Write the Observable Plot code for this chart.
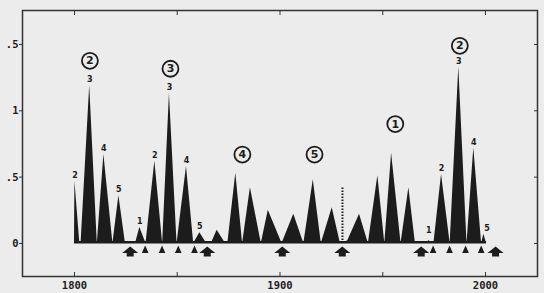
<!DOCTYPE html>
<html><head><meta charset="utf-8">
<script src="https://cdn.jsdelivr.net/npm/d3@7"></script>
<script src="https://cdn.jsdelivr.net/npm/@observablehq/plot@0.6"></script>
<style>
html,body{margin:0;padding:0;background:#ececec;}
#chart{width:544px;height:293px;}
</style></head><body><div id="chart"></div>
<script>
// Outline of the spikes (year, value)
const years = [1800,1800.2,1802.6,1803.2,1807.4,1811.1,1814.3,1818.7,1821.6,1824.8,1829.7,1831.8,1834.8,1839.1,1842.9,1846.2,1849.9,1854.5,1858.0,1861.0,1864.3,1866.6,1869.4,1873.5,1874.6,1878.5,1881.8,1885.6,1890.9,1894.3,1901.0,1906.7,1911.6,1916.2,1920.1,1925.4,1929.4,1930.4,1933.0,1938.7,1943.0,1947.6,1951.0,1954.3,1958.9,1962.7,1965.9,1970.8,1972.4,1974.9,1978.6,1982.8,1987.0,1991.0,1994.3,1998.1,1999.2,2000.5];
const values = [0,0.47,0,0,1.19,0,0.67,0,0.36,0,0,0.12,0,0.62,0,1.13,0,0.58,0,0.08,0,0,0.10,0,0,0.53,0,0.42,0,0.25,0,0.22,0,0.48,0,0.27,0,0,0.02,0.22,0,0.51,0,0.68,0,0.42,0,0,0.02,0,0.52,0,1.33,0,0.72,0,0.07,0];

// small numbers above peaks
const labelYears  = [1800.3,1807.4,1814.3,1821.6,1831.8,1839.1,1846.2,1854.5,1861.0,1972.4,1978.6,1987.0,1994.3,2000.8];
const labelValues = [0.47,1.19,0.67,0.36,0.12,0.62,1.13,0.58,0.08,0.05,0.52,1.33,0.72,0.07];
const labelTexts  = ["2","3","4","5","1","2","3","4","5","1","2","3","4","5"];

// circled numbers
const circleYears  = [1807.5,1846.7,1881.7,1916.8,1956.1,1987.5];
const circleValues = [1.377,1.317,0.67,0.67,0.90,1.49];
const circleTexts  = ["2","3","4","5","1","2"];

// markers below the baseline
const triangleYears = [1834.4,1842.6,1850.5,1858.4,1974.5,1982.5,1990.3,1997.9];
const arrowYears = [1827.1,1864.6,1901.1,1930.3,1968.7,2004.9];

// dotted vertical line
const dottedYear = 1930.4;
const dottedTop = 0.43;

// ticks
const yTicks = [0,0.5,1,1.5];
const yTickLabels = ["0",".5","1",".5"];
const xTicks = [1800,1850,1900,1950,2000];
const xLabelTicks = [1800,1900,2000];
const xTickLabels = ["1800","1900","2000"];

const series = years.map((y,i)=>({year:y,value:values[i]}));
const labels = labelYears.map((y,i)=>({year:y,value:labelValues[i],text:labelTexts[i]}));
const circles = circleYears.map((y,i)=>({year:y,value:circleValues[i],text:circleTexts[i]}));

const triRowY = -0.045, arrowRowY = -0.06;
const triSym = {draw(ctx){ctx.moveTo(0,-4);ctx.lineTo(3.3,3.5);ctx.lineTo(-3.3,3.5);ctx.closePath();}};
const arrowSym = {draw(ctx){ctx.moveTo(0,-5);ctx.lineTo(8,1.5);ctx.lineTo(3.5,1.5);ctx.lineTo(3.5,5);ctx.lineTo(-3.5,5);ctx.lineTo(-3.5,1.5);ctx.lineTo(-8,1.5);ctx.closePath();}};

const ink = "#1c1c1c";
const tickFont = {fontSize:10.5, fontWeight:"bold", fontFamily:"DejaVu Sans Mono"};

const chart = Plot.plot({
  width:544, height:293,
  marginLeft:22, marginRight:7, marginTop:10, marginBottom:17,
  x:{domain:[1774.7,2025.3], label:null},
  y:{domain:[-0.249,1.756], label:null},
  style:{background:"#ececec", color:ink, fontFamily:"DejaVu Sans Mono"},
  marks:[
    Plot.areaY(series,{x:"year",y:"value",fill:ink}),
    Plot.ruleY([0],{x1:years[0],x2:years[years.length-1],stroke:ink,strokeWidth:2.5,dy:-1.2}),
    Plot.ruleX([dottedYear],{y1:0,y2:dottedTop,stroke:ink,strokeWidth:2,strokeDasharray:"1.5,1.5"}),
    Plot.text(labels,{x:"year",y:"value",text:"text",dy:-6,fontSize:8,fontWeight:"bold",fontFamily:"DejaVu Sans",fill:ink}),
    Plot.dot(circles,{x:"year",y:"value",r:8,stroke:ink,strokeWidth:1.8,fill:"none"}),
    Plot.text(circles,{x:"year",y:"value",text:"text",fontSize:11,fontWeight:"bold",fontFamily:"DejaVu Sans",fill:ink}),
    Plot.dot(triangleYears,{x:d=>d,y:()=>triRowY,symbol:triSym,fill:ink,stroke:"none"}),
    Plot.dot(arrowYears,{x:d=>d,y:()=>arrowRowY,symbol:arrowSym,fill:ink,stroke:"none"}),
    Plot.frame({stroke:"#333",strokeWidth:1.5}),
    Plot.axisY({ticks:yTicks,anchor:"left",label:null,tickSize:3,tickPadding:1,tickFormat:d=>yTickLabels[yTicks.indexOf(d)],...tickFont,stroke:"#333"}),
    Plot.axisY({ticks:yTicks,anchor:"right",label:null,tickSize:4,dx:-4,tickFormat:()=>"",stroke:"#333"}),
    Plot.axisX({ticks:xTicks,anchor:"bottom",label:null,tickSize:4,dy:-4,tickFormat:()=>"",stroke:"#333"}),
    Plot.axisX({ticks:xTicks,anchor:"top",label:null,tickSize:4,dy:4,tickFormat:()=>"",stroke:"#333"}),
    Plot.axisX({ticks:xLabelTicks,anchor:"bottom",label:null,tickSize:0,tickPadding:5,tickFormat:d=>xTickLabels[xLabelTicks.indexOf(d)],...tickFont})
  ]
});
document.getElementById("chart").appendChild(chart);
</script>
</body></html>
